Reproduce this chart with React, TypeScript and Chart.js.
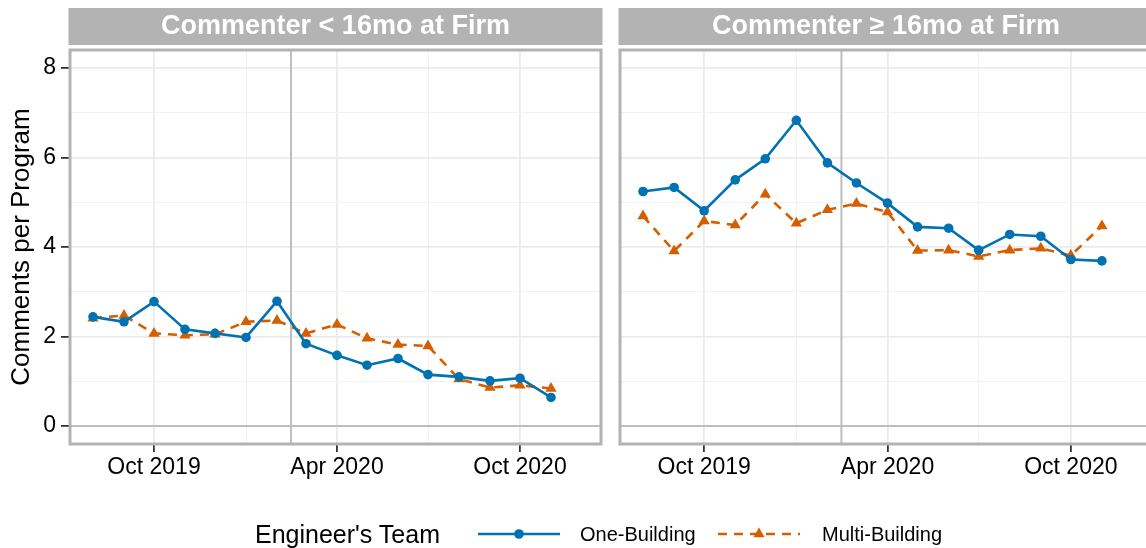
import { useEffect, useRef } from "react";
import { Chart, registerables } from "chart.js";

Chart.register(...registerables);

// ---------- data ----------
const MONTHS = [
  "2019-08-01", "2019-09-01", "2019-10-01", "2019-11-01", "2019-12-01", "2020-01-01",
  "2020-02-01", "2020-03-01", "2020-04-01", "2020-05-01", "2020-06-01", "2020-07-01",
  "2020-08-01", "2020-09-01", "2020-10-01", "2020-11-01",
];
const LEFT_ONE_BUILDING = [2.44, 2.33, 2.78, 2.16, 2.07, 1.98, 2.79, 1.84, 1.58, 1.36, 1.51, 1.15, 1.1, 1.01, 1.07, 0.64];
const LEFT_MULTI_BUILDING = [2.41, 2.47, 2.07, 2.03, 2.05, 2.33, 2.36, 2.07, 2.27, 1.96, 1.82, 1.79, 1.05, 0.86, 0.91, 0.84];
const RIGHT_ONE_BUILDING = [5.24, 5.33, 4.81, 5.5, 5.97, 6.83, 5.88, 5.43, 4.98, 4.45, 4.42, 3.93, 4.28, 4.24, 3.72, 3.69];
const RIGHT_MULTI_BUILDING = [4.69, 3.91, 4.58, 4.49, 5.18, 4.53, 4.83, 4.97, 4.78, 3.92, 3.93, 3.79, 3.93, 3.97, 3.81, 4.47];

const PANEL_TITLES = ["Commenter < 16mo at Firm", "Commenter \u2265 16mo at Firm"];
const SERIES_NAMES = ["One-Building", "Multi-Building"];
const LEGEND_TITLE = "Engineer's Team";
const Y_TITLE = "Comments per Program";

const X_MIN = "2019-07-09";
const X_MAX = "2020-12-21";
const X_MAJOR_TICKS = ["2019-10-01", "2020-04-01", "2020-10-01"];
const X_MAJOR_LABELS = ["Oct 2019", "Apr 2020", "Oct 2020"];
const X_MINOR_TICKS = ["2020-01-01", "2020-07-01"];
const Y_MIN = -0.4;
const Y_MAX = 8.4;
const Y_MAJOR_TICKS = [0, 2, 4, 6, 8];
const Y_MINOR_TICKS = [1, 3, 5, 7];
const EVENT_DATE = "2020-02-15";
const HLINE_VALUE = 0;

// ---------- styles ----------
const BLUE = "#0072B2";
const ORANGE = "#D55E00";
const FONT = "'Liberation Sans', Arial, Helvetica, sans-serif";
const GRID_MAJOR = "#EBEBEB";
const GRID_MINOR = "#F2F2F2";
const FRAME = "#B3B3B3";
const REF = "#BEBEBE";
const TICK = "#333333";

const toDay = (s: string) => {
  const [y, m, d] = s.split("-").map(Number);
  return Date.UTC(y, m - 1, d) / 86400000;
};

const xMajorVals = X_MAJOR_TICKS.map(toDay);

const panelDecor = {
  id: "panelDecor",
  beforeDatasetsDraw(chart: any) {
    const { ctx, chartArea: a, scales } = chart;
    ctx.save();
    ctx.strokeStyle = REF;
    ctx.lineWidth = 2;
    const y0 = scales.y.getPixelForValue(HLINE_VALUE);
    ctx.beginPath();
    ctx.moveTo(a.left, y0);
    ctx.lineTo(a.right, y0);
    ctx.stroke();
    const xv = scales.x.getPixelForValue(toDay(EVENT_DATE));
    ctx.beginPath();
    ctx.moveTo(xv, a.top);
    ctx.lineTo(xv, a.bottom);
    ctx.stroke();
    ctx.restore();
  },
  afterDraw(chart: any, _args: any, opts: any) {
    const { ctx, chartArea: a } = chart;
    ctx.save();
    ctx.strokeStyle = FRAME;
    ctx.lineWidth = 3;
    ctx.strokeRect(a.left, a.top, a.right - a.left, a.bottom - a.top);
    ctx.fillStyle = FRAME;
    ctx.fillRect(a.left - 1.5, 8, a.right - a.left + 3, 37);
    ctx.fillStyle = "#FFFFFF";
    ctx.font = `bold 27px ${FONT}`;
    ctx.textAlign = "center";
    ctx.textBaseline = "middle";
    ctx.fillText(opts.title, (a.left + a.right) / 2, 27);
    ctx.restore();
  },
};

function makeChart(canvas: HTMLCanvasElement, title: string, one: number[], multi: number[], showY: boolean) {
  const xs = MONTHS.map(toDay);
  return new Chart(canvas, {
    type: "line",
    data: {
      datasets: [
        {
          label: SERIES_NAMES[0],
          data: xs.map((x, i) => ({ x, y: one[i] })),
          borderColor: BLUE,
          backgroundColor: BLUE,
          borderWidth: 2.6,
          pointStyle: "circle",
          pointRadius: 4.8,
          pointBorderWidth: 0,
          pointBackgroundColor: BLUE,
          tension: 0,
        },
        {
          label: SERIES_NAMES[1],
          data: xs.map((x, i) => ({ x, y: multi[i] })),
          borderColor: ORANGE,
          backgroundColor: ORANGE,
          borderWidth: 2.6,
          borderDash: [9, 7],
          pointStyle: "triangle",
          pointRadius: 6.5,
          pointBorderWidth: 0,
          pointBackgroundColor: ORANGE,
          tension: 0,
        },
      ],
    },
    options: {
      animation: false,
      responsive: false,
      devicePixelRatio: 1,
      events: [],
      layout: { padding: { left: 0, right: showY ? 10 : 8, top: 50, bottom: 64 } },
      plugins: {
        legend: { display: false },
        tooltip: { enabled: false },
        panelDecor: { title },
      } as any,
      scales: {
        x: {
          type: "linear",
          min: toDay(X_MIN),
          max: toDay(X_MAX),
          afterBuildTicks: (scale: any) => {
            scale.ticks = [...X_MAJOR_TICKS, ...X_MINOR_TICKS]
              .map(toDay)
              .sort((a, b) => a - b)
              .map((value) => ({ value }));
          },
          afterFit: (scale: any) => {
            scale.height = 40;
          },
          ticks: {
            autoSkip: false,
            maxRotation: 0,
            padding: 2,
            color: "#000000",
            font: { family: FONT, size: 23 },
            callback: (v: any) => {
              const i = xMajorVals.indexOf(Number(v));
              return i >= 0 ? X_MAJOR_LABELS[i] : "";
            },
          },
          grid: {
            color: (c: any) => (xMajorVals.includes(c.tick?.value) ? GRID_MAJOR : GRID_MINOR),
            lineWidth: (c: any) => (xMajorVals.includes(c.tick?.value) ? 1.8 : 1),
            tickColor: TICK,
            tickWidth: (c: any) => (xMajorVals.includes(c.tick?.value) ? 1.8 : 0),
            tickLength: 8,
          } as any,
          border: { display: false },
        },
        y: {
          type: "linear",
          min: Y_MIN,
          max: Y_MAX,
          afterBuildTicks: (scale: any) => {
            scale.ticks = [...Y_MAJOR_TICKS, ...Y_MINOR_TICKS].sort((a, b) => a - b).map((value) => ({ value }));
          },
          afterFit: (scale: any) => {
            scale.width = showY ? 70 : 10;
          },
          ticks: {
            display: showY,
            padding: 5,
            color: "#000000",
            font: { family: FONT, size: 23 },
            callback: (v: any) => (Y_MAJOR_TICKS.includes(Number(v)) ? String(v) : ""),
          },
          title: {
            display: showY,
            text: Y_TITLE,
            color: "#000000",
            font: { family: FONT, size: 26 },
            padding: { top: 6, bottom: 0 },
          },
          grid: {
            color: (c: any) => (Y_MAJOR_TICKS.includes(c.tick?.value) ? GRID_MAJOR : GRID_MINOR),
            lineWidth: (c: any) => (Y_MAJOR_TICKS.includes(c.tick?.value) ? 1.8 : 1),
            tickColor: TICK,
            tickWidth: (c: any) => (Y_MAJOR_TICKS.includes(c.tick?.value) ? 1.8 : 0),
            drawTicks: showY,
            tickLength: 9,
          } as any,
          border: { display: false },
        },
      },
    } as any,
    plugins: [panelDecor],
  });
}

function LineKey({ color, dashed, triangle }: { color: string; dashed?: boolean; triangle?: boolean }) {
  return (
    <svg width={84} height={20} style={{ display: "block" }}>
      <line x1={1} y1={10} x2={83} y2={10} stroke={color} strokeWidth={2.6} strokeDasharray={dashed ? "9 7" : undefined} />
      {triangle ? (
        <polygon points="42,3.5 47.6,13.25 36.4,13.25" fill={color} />
      ) : (
        <circle cx={42} cy={10} r={4.8} fill={color} />
      )}
    </svg>
  );
}

export default function App() {
  const leftRef = useRef<HTMLCanvasElement>(null);
  const rightRef = useRef<HTMLCanvasElement>(null);

  useEffect(() => {
    const c1 = makeChart(leftRef.current!, PANEL_TITLES[0], LEFT_ONE_BUILDING, LEFT_MULTI_BUILDING, true);
    const c2 = makeChart(rightRef.current!, PANEL_TITLES[1], RIGHT_ONE_BUILDING, RIGHT_MULTI_BUILDING, false);
    return () => {
      c1.destroy();
      c2.destroy();
    };
  }, []);

  const txt: any = { position: "absolute", top: 520, height: 28, lineHeight: "28px", fontFamily: FONT, color: "#000", whiteSpace: "nowrap" };

  return (
    <div style={{ position: "fixed", left: 0, top: 0, width: 1160, height: 548, background: "#fff", overflow: "hidden" }}>
      <canvas ref={leftRef} width={611} height={548} style={{ position: "absolute", left: 0, top: 0, width: 611, height: 548 }} />
      <canvas ref={rightRef} width={550} height={548} style={{ position: "absolute", left: 610, top: 0, width: 550, height: 548 }} />
      <div style={{ ...txt, left: 255, fontSize: 25 }}>{LEGEND_TITLE}</div>
      <div style={{ position: "absolute", left: 477, top: 524 }}>
        <LineKey color={BLUE} />
      </div>
      <div style={{ ...txt, left: 580, fontSize: 20 }}>{SERIES_NAMES[0]}</div>
      <div style={{ position: "absolute", left: 717, top: 524 }}>
        <LineKey color={ORANGE} dashed triangle />
      </div>
      <div style={{ ...txt, left: 822, fontSize: 20 }}>{SERIES_NAMES[1]}</div>
    </div>
  );
}
